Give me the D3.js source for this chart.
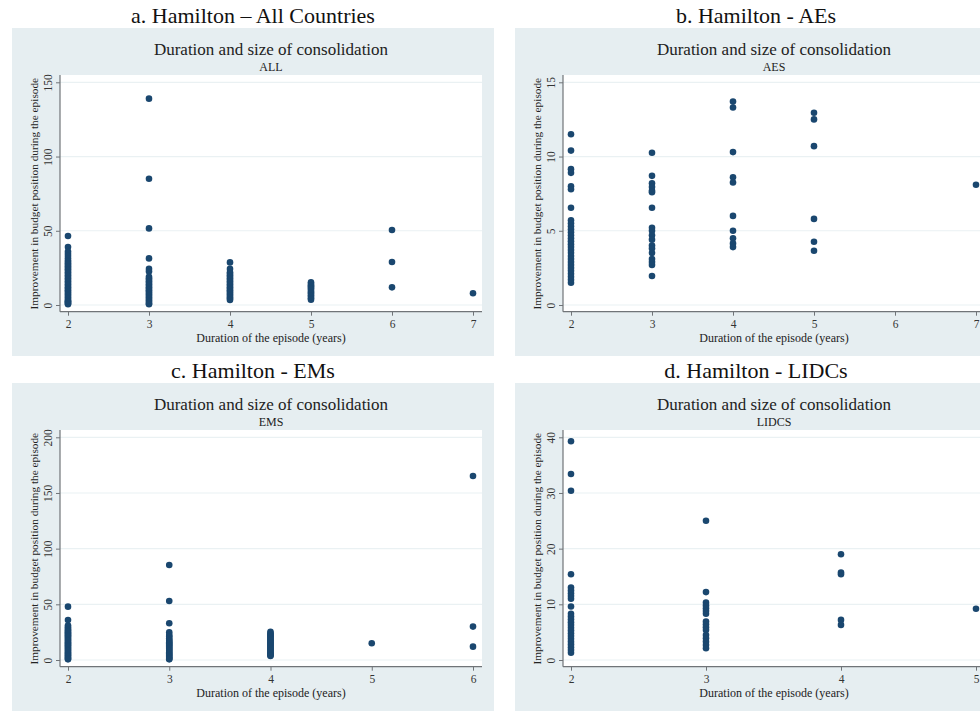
<!DOCTYPE html>
<html>
<head>
<meta charset="utf-8">
<script src="https://cdn.jsdelivr.net/npm/d3@7"></script>
<style>
  body { margin: 0; background: #fff; }
  svg { display: block; font-family: "Liberation Serif", "Times New Roman", serif; }
</style>
</head>
<body>
<script>
"use strict";
(function(){
    // improvement in budget position, grouped by episode duration (years)
    const allSeries = {
        2: [46.5, 39, 36, 34.5, 33, 31.5, 30, 29, 28, 27, 26, 25, 24, 23, 22, 21, 20, 19, 18, 17, 16, 15, 14, 13, 12, 11, 10, 9, 8, 7, 6, 5, 4, 3, 2.5, 2, 1.5, 1, 0.5],
        3: [139, 85, 51.6, 31.4, 24.3, 22.5, 19, 18, 17, 16, 15, 14, 13, 12, 11, 10, 9, 8, 7, 6, 5, 4, 3, 2, 1, 0.5],
        4: [28.7, 24.3, 22, 21, 20, 19, 18, 17, 16, 15, 14, 13, 12, 11, 10, 9, 8, 7, 6, 5, 4.2, 3.4],
        5: [15.3, 14.2, 13.2, 12.5, 11.5, 10.7, 9.5, 8.5, 7.5, 6.5, 5.6, 4.5, 3.6],
        6: [50.5, 29, 11.9],
        7: [7.9]
    }
    const aesSeries = {
        2: [11.5, 10.4, 9.15, 8.9, 8.0, 7.8, 6.55, 5.7, 5.5, 5.3, 5.1, 4.9, 4.7, 4.5, 4.3, 4.1, 3.9, 3.7, 3.5, 3.3, 3.1, 2.9, 2.7, 2.5, 2.3, 2.1, 1.9, 1.7, 1.5],
        3: [10.25, 8.7, 8.2, 7.95, 7.7, 7.6, 6.55, 5.2, 5.0, 4.7, 4.4, 4.0, 3.8, 3.5, 3.1, 2.9, 2.7, 1.95],
        4: [13.7, 13.3, 10.3, 8.6, 8.25, 6.0, 5.0, 4.5, 4.15, 3.9],
        5: [12.95, 12.5, 10.7, 5.8, 4.26, 3.65],
        7: [8.1]
    }
    const emsSeries = {
        2: [47.9, 35.9, 31, 29.5, 28, 27, 26, 25, 24, 23, 22, 21, 20, 19, 18, 17, 16, 15, 14, 13, 12, 11, 10, 9, 8, 7, 6, 5, 4, 3, 2, 1.2, 0.6],
        3: [85.3, 53, 33, 24.9, 22.5, 21, 19.5, 18, 17, 16, 15, 14, 13, 12, 11, 10, 9, 8, 7, 6, 5, 4, 3, 2, 1.2, 0.6],
        4: [25.4, 24, 23, 22, 21, 20, 19, 18, 17, 16, 15, 14, 13, 12, 11, 10, 9, 8, 7, 6, 5, 4.2, 3.6],
        5: [15],
        6: [165.3, 30, 12]
    }
    const lidcsSeries = {
        2: [39.3, 33.4, 30.4, 15.4, 13.0, 12.5, 12.0, 11.5, 11.0, 9.6, 8.3, 7.8, 7.3, 6.8, 6.3, 5.8, 5.3, 4.8, 4.3, 3.8, 3.3, 2.8, 2.3, 1.8, 1.3],
        3: [25.0, 12.2, 10.3, 9.8, 9.3, 8.8, 8.3, 6.9, 6.4, 5.9, 5.4, 4.5, 3.9, 3.3, 2.7, 2.1],
        4: [19.0, 15.7, 15.4, 7.2, 6.3],
        5: [9.2]
    }

    const panelTitles = ["a. Hamilton \u2013 All Countries", "b. Hamilton - AEs", "c. Hamilton - EMs", "d. Hamilton - LIDCs"]
    const groupLabels = ["ALL", "AES", "EMS", "LIDCS"]
    const xTickLabels = [[2, 3, 4, 5, 6, 7], [2, 3, 4, 5, 6, 7], [2, 3, 4, 5, 6], [2, 3, 4, 5]]
    const yTickLabels = [[0, 50, 100, 150], [0, 5, 10, 15], [0, 50, 100, 150, 200], [0, 10, 20, 30, 40]]

    const chartTitle = "Duration and size of consolidation"
    const xTitle = "Duration of the episode (years)"
    const yTitle = "Improvement in budget position during the episode"

    // layout of one panel, in panel coordinates
    const measurements = {
        width: 980,
        height: 712,
        boxW: 482,
        boxTop: 28,
        boxH: 328,
        plotLeft: 48,
        plotRight: 470,
        plotTop: 75,
        axisY: 311.7,
        xStart: 56,
        xEnd: 461,
        yBottom: 305,
        yTop: 82.3
    }
    const origins = [[12, 0], [515, 0], [12, 355], [515, 355]]
    const seriesList = [allSeries, aesSeries, emsSeries, lidcsSeries]

    const colors = {
        region: "#e6eef1",
        grid: "#eaf1f3",
        axis: "#707478",
        text: "#222",
        marker: "#1a476f"
    }

    const svgContainer = d3.select("body").append("svg")
        .attr("width", measurements.width)
        .attr("height", measurements.height)

    seriesList.forEach((series, i) => drawPanel(i, series))

    function drawPanel(i, series) {
        const m = measurements
        const g = svgContainer.append("g")
            .attr("transform", `translate(${origins[i][0]},${origins[i][1]})`)
        const midPlot = (m.plotLeft + m.plotRight) / 2

        g.append("rect")
            .attr("x", 0).attr("y", m.boxTop)
            .attr("width", m.boxW).attr("height", m.boxH)
            .attr("fill", colors.region)

        g.append("text")
            .attr("x", m.boxW / 2).attr("y", 22.5)
            .attr("text-anchor", "middle")
            .attr("font-size", 22)
            .attr("fill", "#111")
            .text(panelTitles[i])

        g.append("text")
            .attr("x", midPlot).attr("y", 55)
            .attr("text-anchor", "middle")
            .attr("font-size", 17)
            .attr("fill", colors.text)
            .text(chartTitle)

        g.append("text")
            .attr("x", midPlot).attr("y", 71)
            .attr("text-anchor", "middle")
            .attr("font-size", 12)
            .attr("fill", colors.text)
            .text(groupLabels[i])

        g.append("rect")
            .attr("x", m.plotLeft).attr("y", m.plotTop)
            .attr("width", m.plotRight - m.plotLeft).attr("height", m.axisY - m.plotTop)
            .attr("fill", "#fff")

        const xTicks = xTickLabels[i]
        const yTicks = yTickLabels[i]
        const scaleX = d3.scaleLinear()
            .domain([xTicks[0], xTicks[xTicks.length - 1]])
            .range([m.xStart, m.xEnd])
        const scaleY = d3.scaleLinear()
            .domain([yTicks[0], yTicks[yTicks.length - 1]])
            .range([m.yBottom, m.yTop])

        // horizontal gridlines
        g.selectAll(".grid")
            .data(yTicks)
            .enter()
            .append("line")
                .attr("x1", m.plotLeft).attr("x2", m.plotRight)
                .attr("y1", d => scaleY(d)).attr("y2", d => scaleY(d))
                .attr("stroke", colors.grid)
                .attr("stroke-width", 1.2)

        // axes
        const yAxis = d3.axisLeft(scaleY).tickValues(yTicks).tickSize(4).tickFormat(d3.format("d"))
        const yG = g.append("g")
            .attr("transform", `translate(${m.plotLeft},0)`)
            .call(yAxis)
        yG.select(".domain").remove()
        yG.selectAll(".tick line").attr("stroke", colors.axis)
        yG.selectAll(".tick text")
            .attr("x", 0).attr("y", 0).attr("dy", "0.35em")
            .attr("transform", "translate(-12,0) rotate(-90)")
            .attr("text-anchor", "middle")
            .attr("font-family", "Liberation Serif")
            .attr("font-size", 11.5)
            .attr("fill", "#333")
        g.append("line")
            .attr("x1", m.plotLeft).attr("x2", m.plotLeft)
            .attr("y1", m.plotTop).attr("y2", m.axisY)
            .attr("stroke", colors.axis).attr("stroke-width", 1.2)

        const xAxis = d3.axisBottom(scaleX).tickValues(xTicks).tickSize(4).tickFormat(d3.format("d"))
        const xG = g.append("g")
            .attr("transform", `translate(0,${m.axisY})`)
            .call(xAxis)
        xG.select(".domain").remove()
        xG.selectAll(".tick line").attr("stroke", colors.axis)
        xG.selectAll(".tick text")
            .attr("y", 8)
            .attr("font-family", "Liberation Serif")
            .attr("font-size", 11.5)
            .attr("fill", "#333")
        g.append("line")
            .attr("x1", m.plotLeft).attr("x2", m.plotRight)
            .attr("y1", m.axisY).attr("y2", m.axisY)
            .attr("stroke", colors.axis).attr("stroke-width", 1.2)

        // axis titles
        g.append("text")
            .attr("x", midPlot).attr("y", 342)
            .attr("text-anchor", "middle")
            .attr("font-size", 12)
            .attr("fill", colors.text)
            .text(xTitle)
        g.append("text")
            .attr("transform", `translate(22,${(m.yTop + m.yBottom) / 2}) rotate(-90)`)
            .attr("dy", "0.35em")
            .attr("text-anchor", "middle")
            .attr("font-size", 11.3)
            .attr("fill", colors.text)
            .text(yTitle)

        // markers
        const points = []
        Object.keys(series).forEach(k => series[k].forEach(v => points.push({ dur: +k, val: v })))
        g.selectAll(".dot")
            .data(points)
            .enter()
            .append("circle")
                .attr("cx", d => scaleX(d.dur))
                .attr("cy", d => scaleY(d.val))
                .attr("r", 3.3)
                .attr("fill", colors.marker)
    }
})()
</script>
</body>
</html>
